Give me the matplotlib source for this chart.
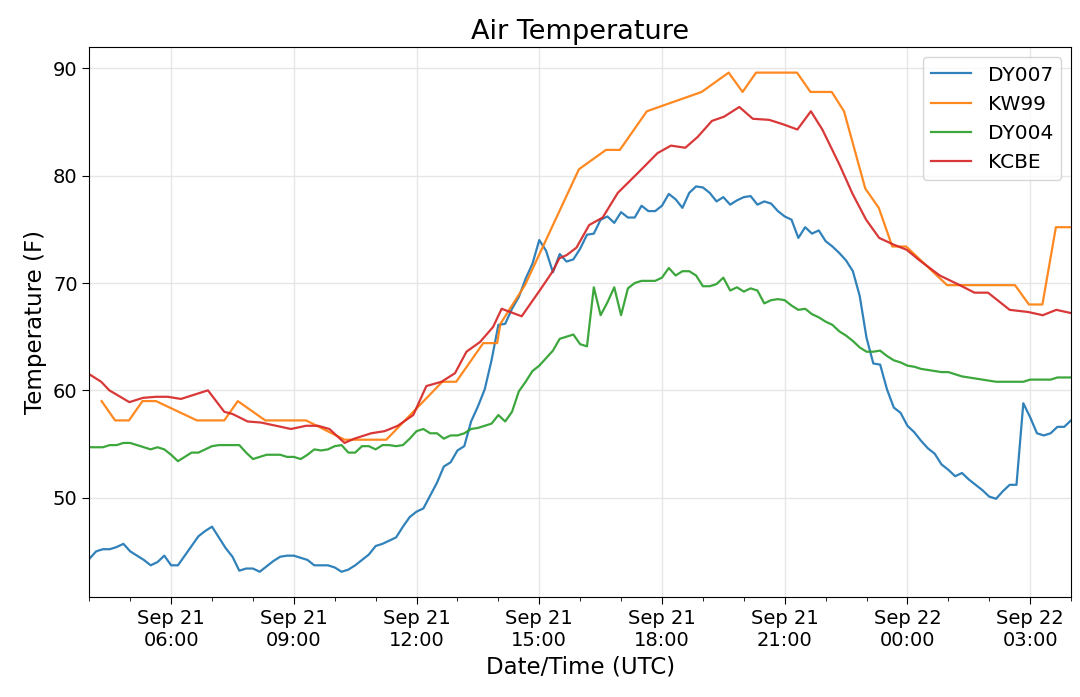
import numpy as np
import pandas as pd
import matplotlib
matplotlib.use('Agg')
import matplotlib.pyplot as plt
import matplotlib.dates as mdates

# 10-minute station readings, Sep 21 04:00 UTC -> Sep 22 04:00 UTC
dy_start = '2019-09-21 04:00'
dy007 = [44.3, 45.0, 45.2, 45.2, 45.4, 45.7, 45.0, 44.6, 44.2, 43.7,
         44.0, 44.6, 43.7, 43.7, 44.6, 45.5, 46.4, 46.9, 47.3, 46.3,
         45.3, 44.5, 43.2, 43.4, 43.4, 43.1, 43.6, 44.1, 44.5, 44.6,
         44.6, 44.4, 44.2, 43.7, 43.7, 43.7, 43.5, 43.1, 43.3, 43.7,
         44.2, 44.7, 45.5, 45.7, 46.0, 46.3, 47.3, 48.2, 48.7, 49.0,
         50.2, 51.4, 52.9, 53.3, 54.4, 54.8, 57.1, 58.5, 60.1, 62.8,
         66.1, 66.2, 67.6, 68.7, 70.4, 71.8, 74.0, 73.0, 71.0, 72.7,
         72.0, 72.2, 73.2, 74.5, 74.6, 75.9, 76.2, 75.6, 76.6, 76.1,
         76.1, 77.2, 76.7, 76.7, 77.2, 78.3, 77.8, 77.0, 78.4, 79.0,
         78.9, 78.4, 77.6, 78.0, 77.3, 77.7, 78.0, 78.1, 77.3, 77.6,
         77.4, 76.7, 76.2, 75.9, 74.2, 75.2, 74.6, 74.9, 73.9, 73.4,
         72.8, 72.1, 71.1, 68.8, 64.9, 62.5, 62.4, 60.1, 58.4, 57.9,
         56.7, 56.1, 55.3, 54.6, 54.1, 53.1, 52.6, 52.0, 52.3, 51.7,
         51.2, 50.7, 50.1, 49.9, 50.6, 51.2, 51.2, 58.8, 57.5, 56.0,
         55.8, 56.0, 56.6, 56.6, 57.2]
dy004 = [54.7, 54.7, 54.7, 54.9, 54.9, 55.1, 55.1, 54.9, 54.7, 54.5,
         54.7, 54.5, 54.0, 53.4, 53.8, 54.2, 54.2, 54.5, 54.8, 54.9,
         54.9, 54.9, 54.9, 54.2, 53.6, 53.8, 54.0, 54.0, 54.0, 53.8,
         53.8, 53.6, 54.0, 54.5, 54.4, 54.5, 54.8, 54.9, 54.2, 54.2,
         54.8, 54.8, 54.5, 54.9, 54.9, 54.8, 54.9, 55.5, 56.2, 56.4,
         56.0, 56.0, 55.5, 55.8, 55.8, 56.0, 56.4, 56.5, 56.7, 56.9,
         57.7, 57.1, 58.0, 59.9, 60.8, 61.8, 62.3, 63.0, 63.7, 64.8,
         65.0, 65.2, 64.3, 64.1, 69.6, 67.0, 68.2, 69.6, 67.0, 69.5,
         70.0, 70.2, 70.2, 70.2, 70.5, 71.4, 70.7, 71.1, 71.1, 70.7,
         69.7, 69.7, 69.9, 70.5, 69.3, 69.6, 69.2, 69.5, 69.3, 68.1,
         68.4, 68.5, 68.4, 67.9, 67.5, 67.6, 67.1, 66.8, 66.4, 66.1,
         65.5, 65.1, 64.6, 64.0, 63.6, 63.6, 63.7, 63.2, 62.8, 62.6,
         62.3, 62.2, 62.0, 61.9, 61.8, 61.7, 61.7, 61.5, 61.3, 61.2,
         61.1, 61.0, 60.9, 60.8, 60.8, 60.8, 60.8, 60.8, 61.0, 61.0,
         61.0, 61.0, 61.2, 61.2, 61.2]

# airport obs: hours after Sep 21 00:00 UTC
kw99_hours = [4.30, 4.63, 4.97, 5.30, 5.63, 6.63, 7.30, 7.63, 8.30, 9.30,
              10.24, 11.26, 12.63, 12.97, 13.63, 13.97, 14.05, 14.35, 14.65,
              15.97, 16.63, 16.97, 17.63, 18.97, 19.63, 19.97, 20.30, 21.30,
              21.63, 22.15, 22.45, 22.97, 23.30, 23.63, 23.97, 24.97, 26.63,
              26.97, 27.30, 27.63, 28.00]
kw99 = [59.0, 57.2, 57.2, 59.0, 59.0, 57.2, 57.2, 59.0, 57.2, 57.2,
        55.4, 55.4, 60.8, 60.8, 64.4, 64.4, 66.2, 68.0, 69.8,
        80.6, 82.4, 82.4, 86.0, 87.8, 89.6, 87.8, 89.6, 89.6,
        87.8, 87.8, 86.0, 78.8, 77.0, 73.4, 73.4, 69.8, 69.8,
        68.0, 68.0, 75.2, 75.2]

kcbe_hours = [4.00, 4.29, 4.49, 4.98, 5.31, 5.63, 5.92, 6.24, 6.90, 7.30,
              7.50, 7.87, 8.20, 8.93, 9.30, 9.59, 9.87, 10.24, 10.48, 10.89,
              11.22, 11.54, 11.92, 12.24, 12.61, 12.94, 13.22, 13.55, 13.87, 14.08,
              14.57, 15.01, 15.33, 15.49, 15.67, 15.91, 16.22, 16.55, 16.92, 17.45,
              17.89, 18.22, 18.57, 18.87, 19.22, 19.52, 19.89, 20.22, 20.62, 20.95,
              21.31, 21.64, 21.92, 22.33, 22.66, 22.99, 23.31, 23.65, 23.98, 24.30,
              24.79, 25.28, 25.64, 25.97, 26.50, 26.95, 27.31, 27.64, 28.00]
kcbe = [61.5, 60.8, 60.0, 58.9, 59.3, 59.4, 59.4, 59.2, 60.0, 58.0,
        57.8, 57.1, 57.0, 56.4, 56.7, 56.7, 56.4, 55.1, 55.5, 56.0,
        56.2, 56.7, 57.7, 60.4, 60.8, 61.6, 63.6, 64.5, 65.9, 67.6,
        66.9, 69.3, 71.1, 72.3, 72.6, 73.3, 75.4, 76.1, 78.4, 80.4,
        82.1, 82.8, 82.6, 83.6, 85.1, 85.5, 86.4, 85.3, 85.2, 84.8,
        84.3, 86.0, 84.3, 81.1, 78.3, 75.9, 74.2, 73.6, 73.1, 72.1,
        70.7, 69.8, 69.1, 69.1, 67.5, 67.3, 67.0, 67.5, 67.2]

day0 = pd.Timestamp('2019-09-21 00:00')
dy_times = pd.date_range(dy_start, periods=len(dy007), freq='10min')
kw99_times = day0 + pd.to_timedelta(kw99_hours, unit='h')
kcbe_times = day0 + pd.to_timedelta(kcbe_hours, unit='h')

fig = plt.figure(figsize=(10.8, 6.97), dpi=100)
ax = fig.add_axes([0.0827, 0.1435, 0.909, 0.7885])

ax.plot(dy_times, dy007, color='#1f77b4', lw=1.6, alpha=0.92, label='DY007')
ax.plot(kw99_times, kw99, color='#ff7f0e', lw=1.6, alpha=0.92, label='KW99')
ax.plot(dy_times, dy004, color='#2ca02c', lw=1.6, alpha=0.92, label='DY004')
ax.plot(kcbe_times, kcbe, color='#d62728', lw=1.6, alpha=0.92, label='KCBE')

ax.set_xlim(day0 + pd.Timedelta(hours=4), day0 + pd.Timedelta(hours=28))
ax.set_ylim(40.75, 91.95)
ax.set_yticks([50, 60, 70, 80, 90])

ax.xaxis.set_major_locator(mdates.HourLocator(byhour=range(0, 24, 3)))
ax.xaxis.set_minor_locator(mdates.HourLocator())
ax.xaxis.set_major_formatter(mdates.DateFormatter('%b %d\n%H:%M'))

ax.grid(True, which='major', color='#e6e6e6', linewidth=1.0)
ax.tick_params(axis='both', which='major', labelsize=14, length=5)
ax.tick_params(axis='x', which='minor', length=3)

ax.set_title('Air Temperature', fontsize=19.5)
ax.set_xlabel('Date/Time (UTC)', fontsize=16.5)
ax.set_ylabel('Temperature (F)', fontsize=16.5)
ax.legend(loc='upper right', fontsize=14.5)

fig.savefig('out.png', dpi=100)
